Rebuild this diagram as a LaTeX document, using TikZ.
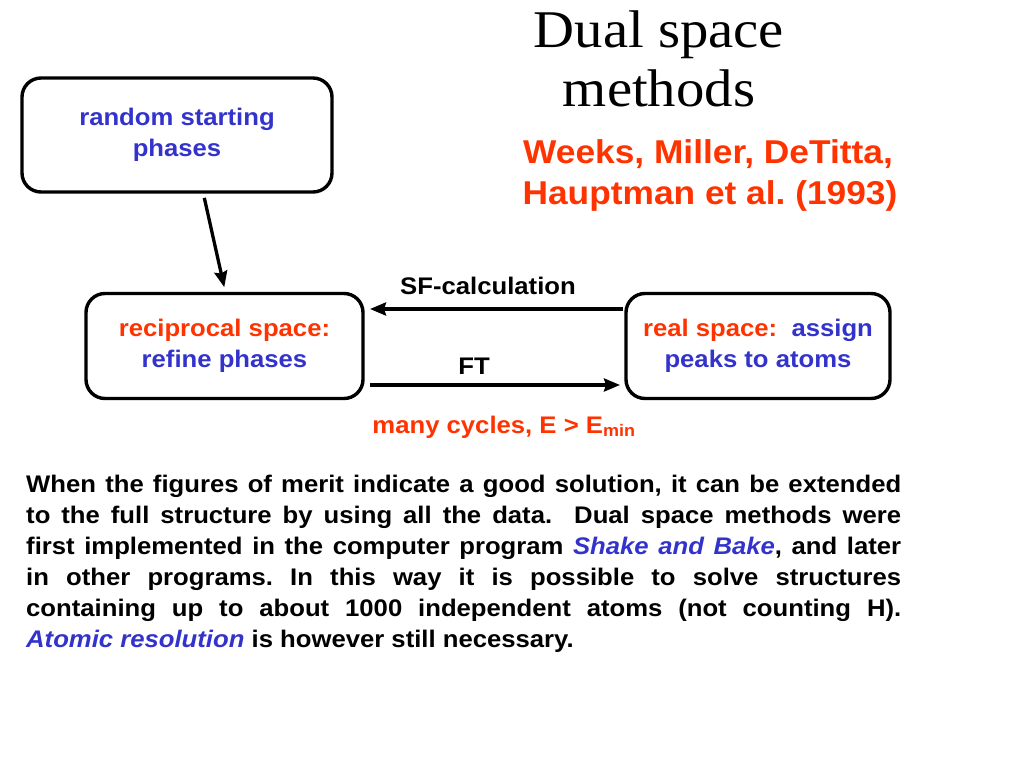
\documentclass[tikz,border=0pt]{standalone}
\usepackage{fontspec}
\setmainfont[FakeStretch=1.07]{Liberation Sans}
\newfontfamily\titlefont[FakeStretch=1.07]{Liberation Serif}
\usetikzlibrary{arrows.meta}
\definecolor{redtxt}{RGB}{255,51,0}
\definecolor{bluetxt}{RGB}{51,51,204}
\frenchspacing

\begin{document}
\begin{tikzpicture}[x=1pt,y=1pt,yscale=-1,xscale=1,
  box/.style={draw, line width=3.4pt, rounded corners=19pt, inner sep=0, outer sep=0, align=center, font=\bfseries\fontsize{24}{31}\selectfont},
  arr/.style={line width=3.3pt, -{Stealth[length=16pt,width=13pt,inset=2pt]}},
  lbl/.style={inner sep=0, font=\bfseries\fontsize{24}{31}\selectfont}]
\useasboundingbox (0,0) rectangle (1023,767);

%Shape: Rounded Rect [id:random]
\node [box, text=bluetxt, minimum width=310, minimum height=114] (random) at (177,135) {random starting\\phases};
%Shape: Rounded Rect [id:recip]
\node [box, minimum width=277, minimum height=105] (recip) at (224.5,346) {\textcolor{redtxt}{reciprocal space:}\\\textcolor{bluetxt}{refine phases}};
%Shape: Rounded Rect [id:real]
\node [box, minimum width=264, minimum height=105] (real) at (758,346) {\textcolor{redtxt}{real space:}\ \ \textcolor{bluetxt}{assign}\\\textcolor{bluetxt}{peaks to atoms}};

%Straight Lines [id:start]
\coordinate (ra) at (203,192);
\coordinate (rb) at (226,295);
\draw [arr, shorten <=6pt, shorten >=8pt] (ra) -- (rb);
%Straight Lines [id:sfcalc]
\coordinate (sfy) at (0,309);
\draw [arr, shorten <=3pt, shorten >=7pt] (real.west |- sfy) -- (recip.east |- sfy);
%Straight Lines [id:fourier]
\coordinate (fty) at (0,385);
\draw [arr, shorten <=7pt, shorten >=6pt] (recip.east |- fty) -- (real.west |- fty);

% Text Node
\node [lbl] (sf) at (488,286) {SF-calculation};
% Text Node
\node [lbl] (ft) at (474,366) {FT};
% Text Node
\node [lbl, text=redtxt, anchor=base] (cycles) at (504,433) {many cycles, E > E\textsubscript{min}};
% Text Node
\node [inner sep=0, anchor=base, font=\titlefont\fontsize{53}{59}\selectfont] (title1) at (659,48) {Dual space};
\node [inner sep=0, anchor=base, font=\titlefont\fontsize{53}{59}\selectfont] (title2) at (659,107) {methods};
% Text Node
\node [lbl, text=redtxt, anchor=base, font=\bfseries\fontsize{33}{40}\selectfont] (authors1) at (708,164) {Weeks, Miller, DeTitta,};
\node [lbl, text=redtxt, anchor=base, font=\bfseries\fontsize{33}{40}\selectfont] (authors2) at (710,205) {Hauptman et al. (1993)};
% Text Node
\node [lbl, anchor=north west, text width=875, align=justify] (para) at (26,475) {When the figures of merit indicate a good solution, it can be extended\linebreak
to the full structure by using all the data.\ \ Dual space methods were\linebreak
first implemented in the computer program \textit{\textcolor{bluetxt}{Shake and Bake}}, and later\linebreak
in other programs. In this way it is possible to solve structures\linebreak
containing up to about 1000 independent atoms (not counting H).\linebreak
\textit{\textcolor{bluetxt}{Atomic resolution}} is however still necessary.};

\end{tikzpicture}
\end{document}
